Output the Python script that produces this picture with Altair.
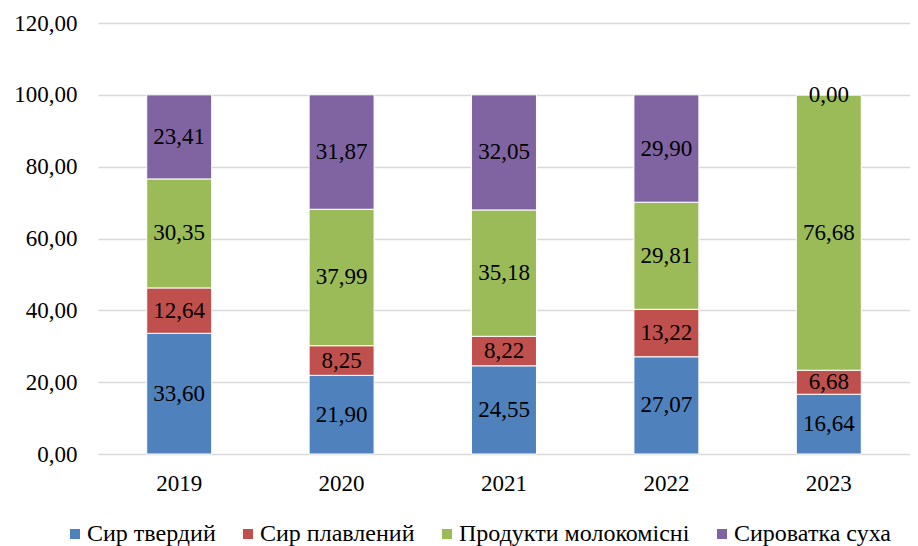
import altair as alt
import pandas as pd

years = ["2019", "2020", "2021", "2022", "2023"]
series = ["Сир твердий", "Сир плавлений", "Продукти молокомісні", "Сироватка суха"]
colors = ["#4F81BD", "#C0504D", "#9BBB59", "#8064A2"]
tverdyi = [33.60, 21.90, 24.55, 27.07, 16.64]
plavlenyi = [12.64, 8.25, 8.22, 13.22, 6.68]
molokomisni = [30.35, 37.99, 35.18, 29.81, 76.68]
syrovatka = [23.41, 31.87, 32.05, 29.90, 0.00]
y_ticks = [0, 20, 40, 60, 80, 100, 120]

values = [tverdyi, plavlenyi, molokomisni, syrovatka]
rows = []
for si, (name, vals) in enumerate(zip(series, values)):
    for y, v in zip(years, vals):
        rows.append({"year": y, "series": name, "idx": si, "value": v})
df = pd.DataFrame(rows)

FONT = "Liberation Serif"

base = alt.Chart(df).transform_stack(
    stack="value", as_=["y0", "y1"], groupby=["year"], sort=[{"field": "idx", "order": "ascending"}]
).transform_calculate(
    mid="(datum.y0 + datum.y1) / 2",
    label="replace(format(datum.value, '.2f'), '.', ',')",
)

x_enc = alt.X(
    "year:N",
    sort=years,
    title=None,
    scale=alt.Scale(paddingInner=0.6, paddingOuter=0.3),
    axis=alt.Axis(
        labelAngle=0, domain=False, ticks=False, labelPadding=18,
        labelFont=FONT, labelFontSize=23, labelColor="#000000", grid=False,
    ),
)

bars = base.mark_bar(stroke="white", strokeWidth=1).encode(
    x=x_enc,
    y=alt.Y(
        "y0:Q",
        title=None,
        scale=alt.Scale(domain=[0, 120], nice=False),
        axis=alt.Axis(
            values=y_ticks, domain=False, ticks=False, labelPadding=21,
            labelFont=FONT, labelFontSize=23, labelColor="#000000",
            gridColor="#D9D9D9", gridWidth=1.3,
            labelExpr="replace(format(datum.value, '.2f'), '.', ',')",
        ),
    ),
    y2="y1:Q",
    color=alt.Color(
        "series:N",
        sort=series,
        scale=alt.Scale(domain=series, range=colors),
        legend=alt.Legend(
            title=None, orient="none", direction="horizontal",
            legendX=-35, legendY=499, padding=0,
            symbolType="square", symbolSize=100, symbolStrokeWidth=0,
            labelFont=FONT, labelFontSize=24, labelColor="#000000",
            labelOffset=0, columnPadding=20, labelLimit=400,
        ),
    ),
)

texts = base.mark_text(font=FONT, fontSize=23, color="#000000", baseline="middle").encode(
    x=alt.X("year:N", sort=years),
    y=alt.Y("mid:Q"),
    text="label:N",
)

chart = alt.layer(bars, texts).properties(
    width=812, height=431,
    autosize=alt.AutoSizeParams(type="none"),
    padding={"left": 90, "top": 15, "right": 0, "bottom": 92},
).configure(font=FONT).configure_view(stroke=None)

chart.save("out.html", embed_options={"renderer": "svg", "actions": False})
